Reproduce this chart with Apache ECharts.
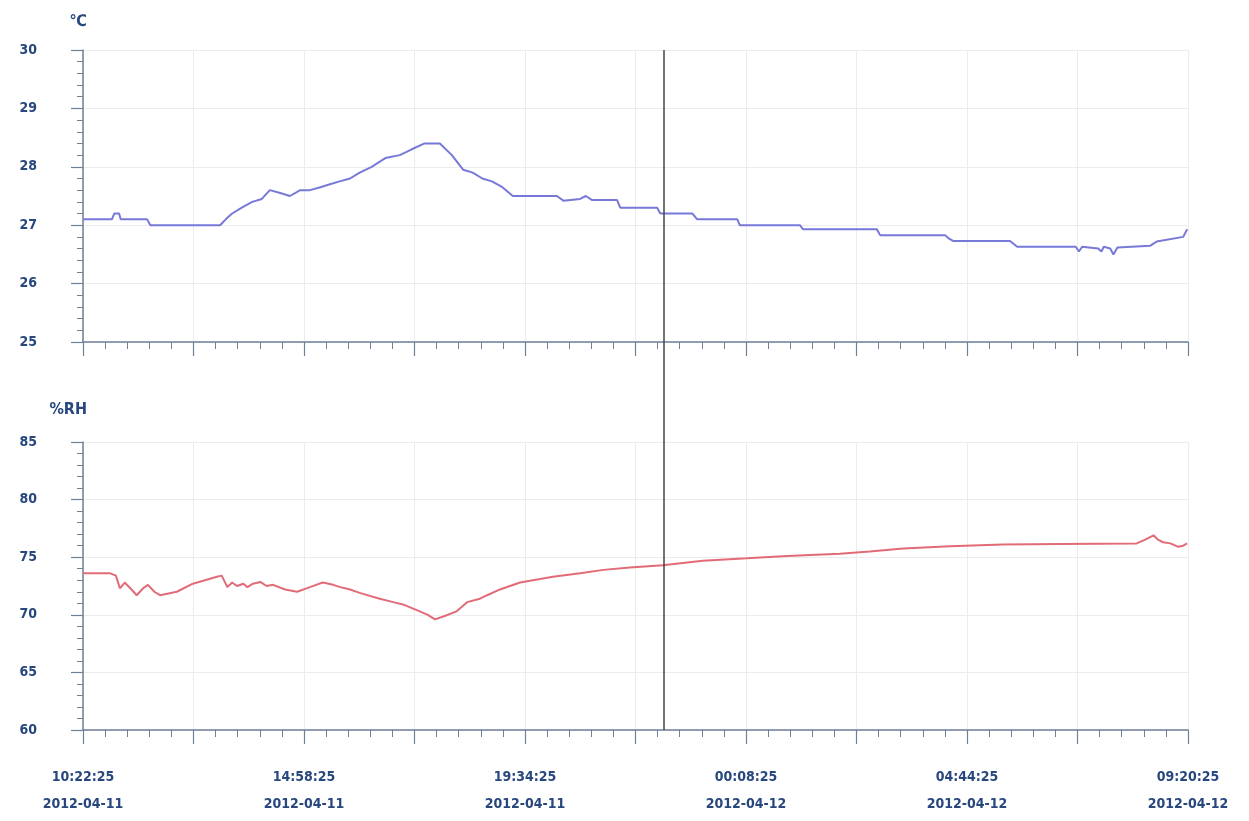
<!DOCTYPE html>
<html>
<head>
<meta charset="utf-8">
<script src="https://cdn.jsdelivr.net/npm/echarts@6/dist/echarts.min.js"></script>
<style>html,body{margin:0;padding:0;background:#fff;}#c{width:1249px;height:821px;}</style>
</head>
<body>
<div id="c"></div>
<script>
// minutes after 2012-04-11 10:22:25
const tempMinutes = [0,36,39,45,47,80,84,171,178,186,198,211,223,233,246,258,271,283,296,308,320,333,345,360,377,395,410,426,445,460,474,486,498,510,523,536,591,599,620,627,635,666,670,716,720,760,766,816,819,894,898,990,994,1075,1079,1085,1156,1165,1238,1242,1246,1266,1270,1273,1281,1285,1290,1331,1339,1372,1377];
const tempValues  = [27.1,27.1,27.2,27.2,27.1,27.1,27.0,27.0,27.1,27.2,27.3,27.4,27.45,27.6,27.55,27.5,27.6,27.6,27.65,27.7,27.75,27.8,27.9,28.0,28.15,28.2,28.3,28.4,28.4,28.2,27.95,27.9,27.8,27.75,27.65,27.5,27.5,27.42,27.45,27.5,27.43,27.43,27.3,27.3,27.2,27.2,27.1,27.1,27.0,27.0,26.93,26.93,26.83,26.83,26.78,26.73,26.73,26.63,26.63,26.55,26.63,26.6,26.55,26.63,26.6,26.5,26.62,26.65,26.72,26.8,26.93];
const humMinutes = [0,34,41,46,52,59,67,75,81,89,96,117,137,152,167,173,180,186,192,200,205,212,221,229,237,252,267,283,299,312,321,333,345,370,387,399,420,430,439,451,466,479,495,504,520,545,570,586,620,649,682,723,773,828,878,944,981,1023,1081,1147,1218,1314,1324,1335,1341,1347,1356,1366,1372,1377];
const humValues  = [73.6,73.6,73.4,72.3,72.8,72.3,71.7,72.3,72.6,72.0,71.7,72.0,72.7,73.0,73.3,73.4,72.4,72.8,72.5,72.7,72.4,72.7,72.85,72.5,72.6,72.2,72.0,72.4,72.8,72.6,72.4,72.2,71.9,71.4,71.1,70.9,70.3,70.0,69.6,69.9,70.3,71.1,71.4,71.7,72.2,72.8,73.1,73.3,73.6,73.9,74.1,74.3,74.7,74.9,75.1,75.3,75.5,75.75,75.95,76.1,76.15,76.2,76.5,76.9,76.5,76.3,76.2,75.9,76.0,76.2];
const xTickLabels = ['10:22:25\n2012-04-11','14:58:25\n2012-04-11','19:34:25\n2012-04-11','00:08:25\n2012-04-12','04:44:25\n2012-04-12','09:20:25\n2012-04-12'];
const xSpan = 1378;
const cursorMinute = 724.5;

const FONT = "'DejaVu Sans Condensed','Liberation Sans Narrow',sans-serif";
const LABEL_COLOR = '#27477e';
const AXIS_COLOR = '#6f8099';

function pairs(xs, ys){ return xs.map((x,i)=>[x, ys[i]]); }

function xAxisCfg(gridIndex, showLabels){
  return {
    type:'value', gridIndex, min:0, max:xSpan, interval:xSpan/10,
    axisLine:{show:true, lineStyle:{color:AXIS_COLOR, width:1.5}},
    axisTick:{show:true, length:14, lineStyle:{color:AXIS_COLOR, width:1.2}},
    minorTick:{show:true, splitNumber:5, length:7, lineStyle:{color:AXIS_COLOR, width:1}},
    splitLine:{show:true, lineStyle:{color:'#ececec', width:1}},
    axisLabel:{
      show:showLabels, margin:34, fontFamily:FONT, fontWeight:'bold', fontSize:14, color:LABEL_COLOR, lineHeight:27,
      formatter:(v, idx)=> (idx % 2 === 0 ? (xTickLabels[idx/2] || '') : '')
    }
  };
}
function yAxisCfg(gridIndex, min, max, interval, name, gap){
  return {
    type:'value', gridIndex, min, max, interval, name,
    nameLocation:'end', nameGap:gap,
    nameTextStyle:{fontFamily:FONT, fontWeight:'bold', fontSize:16, color:LABEL_COLOR, align:'right', padding:[0,-4,0,0]},
    axisLine:{show:true, lineStyle:{color:AXIS_COLOR, width:1.5}},
    axisTick:{show:true, length:12, lineStyle:{color:AXIS_COLOR, width:1.2}},
    minorTick:{show:true, splitNumber:5, length:6, lineStyle:{color:AXIS_COLOR, width:1}},
    splitLine:{show:true, lineStyle:{color:'#ececec', width:1}},
    axisLabel:{margin:46, fontFamily:FONT, fontWeight:'bold', fontSize:14, color:LABEL_COLOR}
  };
}

const chart = echarts.init(document.getElementById('c'));
chart.setOption({
  animation:false,
  backgroundColor:'#ffffff',
  grid:[
    {left:83, right:61, top:50, height:292},
    {left:83, right:61, top:442, height:288},
    {left:83, right:61, top:50, height:680}
  ],
  xAxis:[
    xAxisCfg(0,false),
    xAxisCfg(1,true),
    {type:'value', gridIndex:2, min:0, max:xSpan, show:false}
  ],
  yAxis:[
    yAxisCfg(0,25,30,1,'℃',20),
    yAxisCfg(1,60,85,5,'%RH',24),
    {type:'value', gridIndex:2, min:0, max:1, show:false}
  ],
  series:[
    {type:'line', xAxisIndex:0, yAxisIndex:0, data:pairs(tempMinutes,tempValues), showSymbol:false,
     lineStyle:{color:'#7878d8', width:2}, itemStyle:{color:'#7878d8'}},
    {type:'line', xAxisIndex:1, yAxisIndex:1, data:pairs(humMinutes,humValues), showSymbol:false,
     lineStyle:{color:'#e26b78', width:2}, itemStyle:{color:'#e26b78'}},
    {type:'line', xAxisIndex:2, yAxisIndex:2, data:[], showSymbol:false,
     markLine:{silent:true, symbol:'none', label:{show:false},
       lineStyle:{color:'#444', width:1.5, type:'solid'},
       data:[{xAxis:cursorMinute}]}}
  ]
});
</script>
</body>
</html>
